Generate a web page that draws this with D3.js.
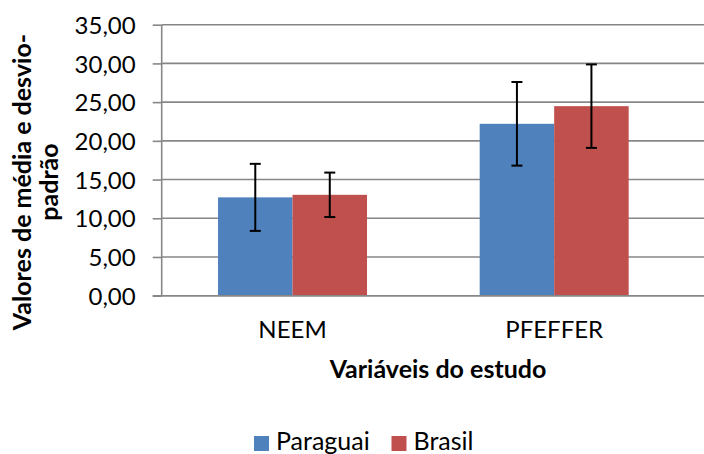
<!DOCTYPE html>
<html>
<head>
<meta charset="utf-8">
<script src="https://cdn.jsdelivr.net/npm/d3@7"></script>
<style>
  html, body { margin: 0; padding: 0; background: #fff; }
  svg { display: block; }
  text { font-family: Lato, "Open Sans", sans-serif; fill: #000; }
</style>
</head>
<body>
<svg id="chart" width="704" height="454"></svg>
<script>
const categories = ["NEEM", "PFEFFER"];
const seriesNames = ["Paraguai", "Brasil"];
const seriesColors = ["#4F81BD", "#C0504D"];
const paraguaiMeans = [12.7, 22.2];
const paraguaiSD = [4.33, 5.4];
const brasilMeans = [13.03, 24.48];
const brasilSD = [2.87, 5.39];
const yTicks = [0, 5, 10, 15, 20, 25, 30, 35];
const yTitleLines = ["Valores de média e desvio-", "padrão"];
const xTitle = "Variáveis do estudo";

(function () {
const series = [
  { name: seriesNames[0], color: seriesColors[0], means: paraguaiMeans, sds: paraguaiSD },
  { name: seriesNames[1], color: seriesColors[1], means: brasilMeans, sds: brasilSD }
];

const svg = d3.select("#chart");
const pl = 161.7, pr = 685, pt = 24.7, pb = 295.7;

const y = d3.scaleLinear().domain([0, 35]).range([pb, pt]);
const x0 = d3.scaleBand().domain(categories).range([pl, pr]).paddingInner(0.4306).paddingOuter(0.2153);
const x1 = d3.scaleBand().domain(seriesNames).range([0, x0.bandwidth()]);

// gridlines
svg.append("g").selectAll("line").data(yTicks).join("line")
  .attr("x1", pl).attr("x2", 704)
  .attr("y1", d => y(d)).attr("y2", d => y(d))
  .attr("stroke", "#878787").attr("stroke-width", 1.6);

// y axis
const yAxis = d3.axisLeft(y).tickValues(yTicks).tickSize(9).tickPadding(17)
  .tickFormat(d => d3.format(".2f")(d).replace(".", ","));
const ga = svg.append("g").attr("transform", `translate(${pl},0)`).call(yAxis);
ga.select(".domain").attr("stroke", "#878787").attr("stroke-width", 1.6).attr("d", `M0,${pt}V${pb}`);
ga.selectAll(".tick line").attr("stroke", "#878787").attr("stroke-width", 1.6);
ga.selectAll(".tick text").attr("font-size", 24).attr("font-family", "Lato").attr("fill", "#000").attr("dy", "0.36em");

// bars
const groups = svg.append("g").selectAll("g").data(categories).join("g")
  .attr("transform", d => `translate(${x0(d)},0)`);
groups.selectAll("rect").data((c, i) => series.map(s => ({ s, v: s.means[i] }))).join("rect")
  .attr("x", d => x1(d.s.name)).attr("width", x1.bandwidth())
  .attr("y", d => y(d.v)).attr("height", d => y(0) - y(d.v))
  .attr("fill", d => d.s.color);

// error bars
const eb = groups.selectAll("g.eb").data((c, i) => series.map(s => ({ s, m: s.means[i], sd: s.sds[i] }))).join("g").attr("class", "eb");
eb.append("line")
  .attr("x1", d => x1(d.s.name) + x1.bandwidth() / 2).attr("x2", d => x1(d.s.name) + x1.bandwidth() / 2)
  .attr("y1", d => y(d.m + d.sd)).attr("y2", d => y(d.m - d.sd))
  .attr("stroke", "#000").attr("stroke-width", 2);
[1, -1].forEach(sign => {
  eb.append("line")
    .attr("x1", d => x1(d.s.name) + x1.bandwidth() / 2 - 5.5).attr("x2", d => x1(d.s.name) + x1.bandwidth() / 2 + 5.5)
    .attr("y1", d => y(d.m + sign * d.sd)).attr("y2", d => y(d.m + sign * d.sd))
    .attr("stroke", "#000").attr("stroke-width", 2);
});

// x axis baseline
svg.append("line").attr("x1", pl - 9).attr("x2", 704).attr("y1", y(0)).attr("y2", y(0))
  .attr("stroke", "#878787").attr("stroke-width", 1.6);

// category labels
svg.append("g").selectAll("text").data(categories).join("text")
  .attr("x", d => x0(d) + x0.bandwidth() / 2).attr("y", 338)
  .attr("text-anchor", "middle").attr("font-size", 24).text(d => d);

// x title
svg.append("text").attr("x", 438).attr("y", 378).attr("text-anchor", "middle")
  .attr("font-size", 25).attr("font-weight", "bold").text(xTitle);

// y title
const yt = svg.append("text").attr("transform", "translate(0,182) rotate(-90)")
  .attr("text-anchor", "middle").attr("font-size", 25).attr("font-weight", "bold");
yt.selectAll("tspan").data(yTitleLines).join("tspan")
  .attr("x", 0).attr("y", (d, i) => 31 + i * 27).text(d => d);

// legend
const lg = svg.append("g").selectAll("g").data(series).join("g")
  .attr("transform", (d, i) => `translate(${[254, 391.5][i]},436)`);
lg.append("rect").attr("width", 15).attr("height", 15).attr("fill", d => d.color);
lg.append("text").attr("x", 22).attr("y", 14).attr("font-size", 25).text(d => d.name);
})();
</script>
</body>
</html>
